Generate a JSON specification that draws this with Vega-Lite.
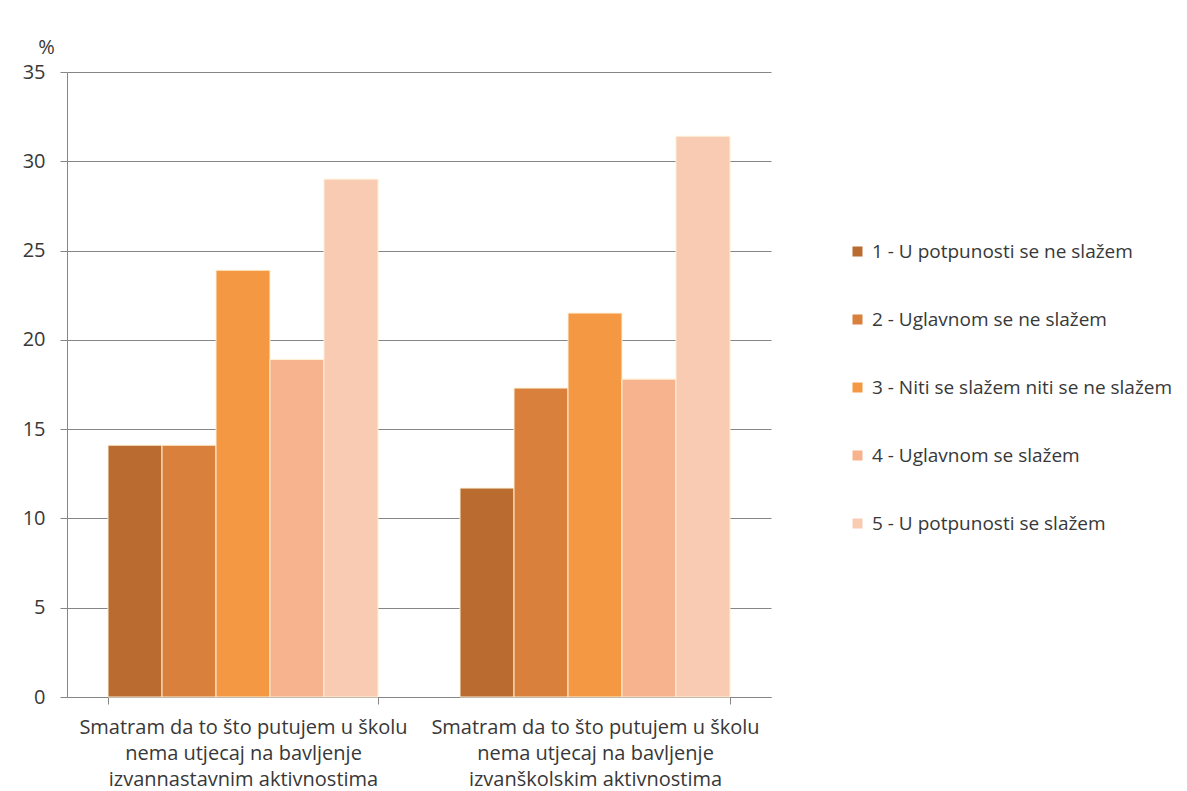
{
  "$schema": "https://vega.github.io/schema/vega-lite/v6.json",
  "width": 704,
  "height": 625,
  "autosize": {"type": "none"},
  "padding": {"left": 67, "top": 72, "right": 416, "bottom": 94},
  "background": "white",
  "data": {
    "values": [
      {"statement": "Smatram da to što putujem u školu nema utjecaj na bavljenje izvannastavnim aktivnostima", "answer": "1 - U potpunosti se ne slažem", "percent": 14.1},
      {"statement": "Smatram da to što putujem u školu nema utjecaj na bavljenje izvannastavnim aktivnostima", "answer": "2 - Uglavnom se ne slažem", "percent": 14.1},
      {"statement": "Smatram da to što putujem u školu nema utjecaj na bavljenje izvannastavnim aktivnostima", "answer": "3 - Niti se slažem niti se ne slažem", "percent": 23.9},
      {"statement": "Smatram da to što putujem u školu nema utjecaj na bavljenje izvannastavnim aktivnostima", "answer": "4 - Uglavnom se slažem", "percent": 18.9},
      {"statement": "Smatram da to što putujem u školu nema utjecaj na bavljenje izvannastavnim aktivnostima", "answer": "5 - U potpunosti se slažem", "percent": 29.0},
      {"statement": "Smatram da to što putujem u školu nema utjecaj na bavljenje izvanškolskim aktivnostima", "answer": "1 - U potpunosti se ne slažem", "percent": 11.7},
      {"statement": "Smatram da to što putujem u školu nema utjecaj na bavljenje izvanškolskim aktivnostima", "answer": "2 - Uglavnom se ne slažem", "percent": 17.3},
      {"statement": "Smatram da to što putujem u školu nema utjecaj na bavljenje izvanškolskim aktivnostima", "answer": "3 - Niti se slažem niti se ne slažem", "percent": 21.5},
      {"statement": "Smatram da to što putujem u školu nema utjecaj na bavljenje izvanškolskim aktivnostima", "answer": "4 - Uglavnom se slažem", "percent": 17.8},
      {"statement": "Smatram da to što putujem u školu nema utjecaj na bavljenje izvanškolskim aktivnostima", "answer": "5 - U potpunosti se slažem", "percent": 31.4}
    ]
  },
  "mark": {"type": "bar", "stroke": "#fdf0d5", "strokeWidth": 1},
  "encoding": {
    "x": {
      "field": "statement",
      "type": "nominal",
      "sort": null,
      "scale": {"paddingInner": 0.233, "paddingOuter": 0.1165},
      "axis": {
        "title": null,
        "labelAngle": 0,
        "tickBand": "extent",
        "tickSize": 7,
        "domainColor": "#868686",
        "tickColor": "#868686",
        "labelBaseline": "alphabetic",
        "labelPadding": 29,
        "labelLineHeight": 26,
        "labelFont": "Open Sans",
        "labelFontSize": 20,
        "labelColor": "#383838",
        "labelLimit": 0,
        "labelExpr": "split(replace(replace(datum.label, ' nema ', '|nema '), ' bavljenje ', ' bavljenje|'), '|')"
      }
    },
    "xOffset": {
      "field": "answer",
      "type": "nominal",
      "sort": null,
      "scale": {"paddingInner": 0, "paddingOuter": 0}
    },
    "y": {
      "field": "percent",
      "type": "quantitative",
      "scale": {"domain": [0, 35], "nice": false},
      "axis": {
        "title": "%",
        "titleAngle": 0,
        "titleX": -21,
        "titleY": -19,
        "titleAlign": "center",
        "titleBaseline": "alphabetic",
        "titleFont": "Open Sans",
        "titleFontSize": 20,
        "titleFontWeight": "normal",
        "titleColor": "#383838",
        "values": [0, 5, 10, 15, 20, 25, 30, 35],
        "grid": true,
        "gridColor": "#868686",
        "domainColor": "#868686",
        "tickColor": "#868686",
        "tickSize": 7,
        "labelPadding": 15,
        "labelFont": "Open Sans",
        "labelFontSize": 20,
        "labelColor": "#383838"
      }
    },
    "color": {
      "field": "answer",
      "type": "nominal",
      "sort": null,
      "scale": {
        "domain": ["1 - U potpunosti se ne slažem", "2 - Uglavnom se ne slažem", "3 - Niti se slažem niti se ne slažem", "4 - Uglavnom se slažem", "5 - U potpunosti se slažem"],
        "range": ["#b96b30", "#d8803c", "#f59844", "#f7b38d", "#facbb3"]
      },
      "legend": {
        "title": null,
        "orient": "none",
        "legendX": 781,
        "legendY": 170,
        "symbolType": "square",
        "symbolSize": 100,
        "symbolStrokeWidth": 0,
        "symbolOpacity": 1,
        "labelFont": "Open Sans",
        "labelFontSize": 19,
        "labelColor": "#383838",
        "labelOffset": 5,
        "labelLimit": 0,
        "rowPadding": 48
      }
    }
  },
  "config": {"view": {"stroke": null}}
}
